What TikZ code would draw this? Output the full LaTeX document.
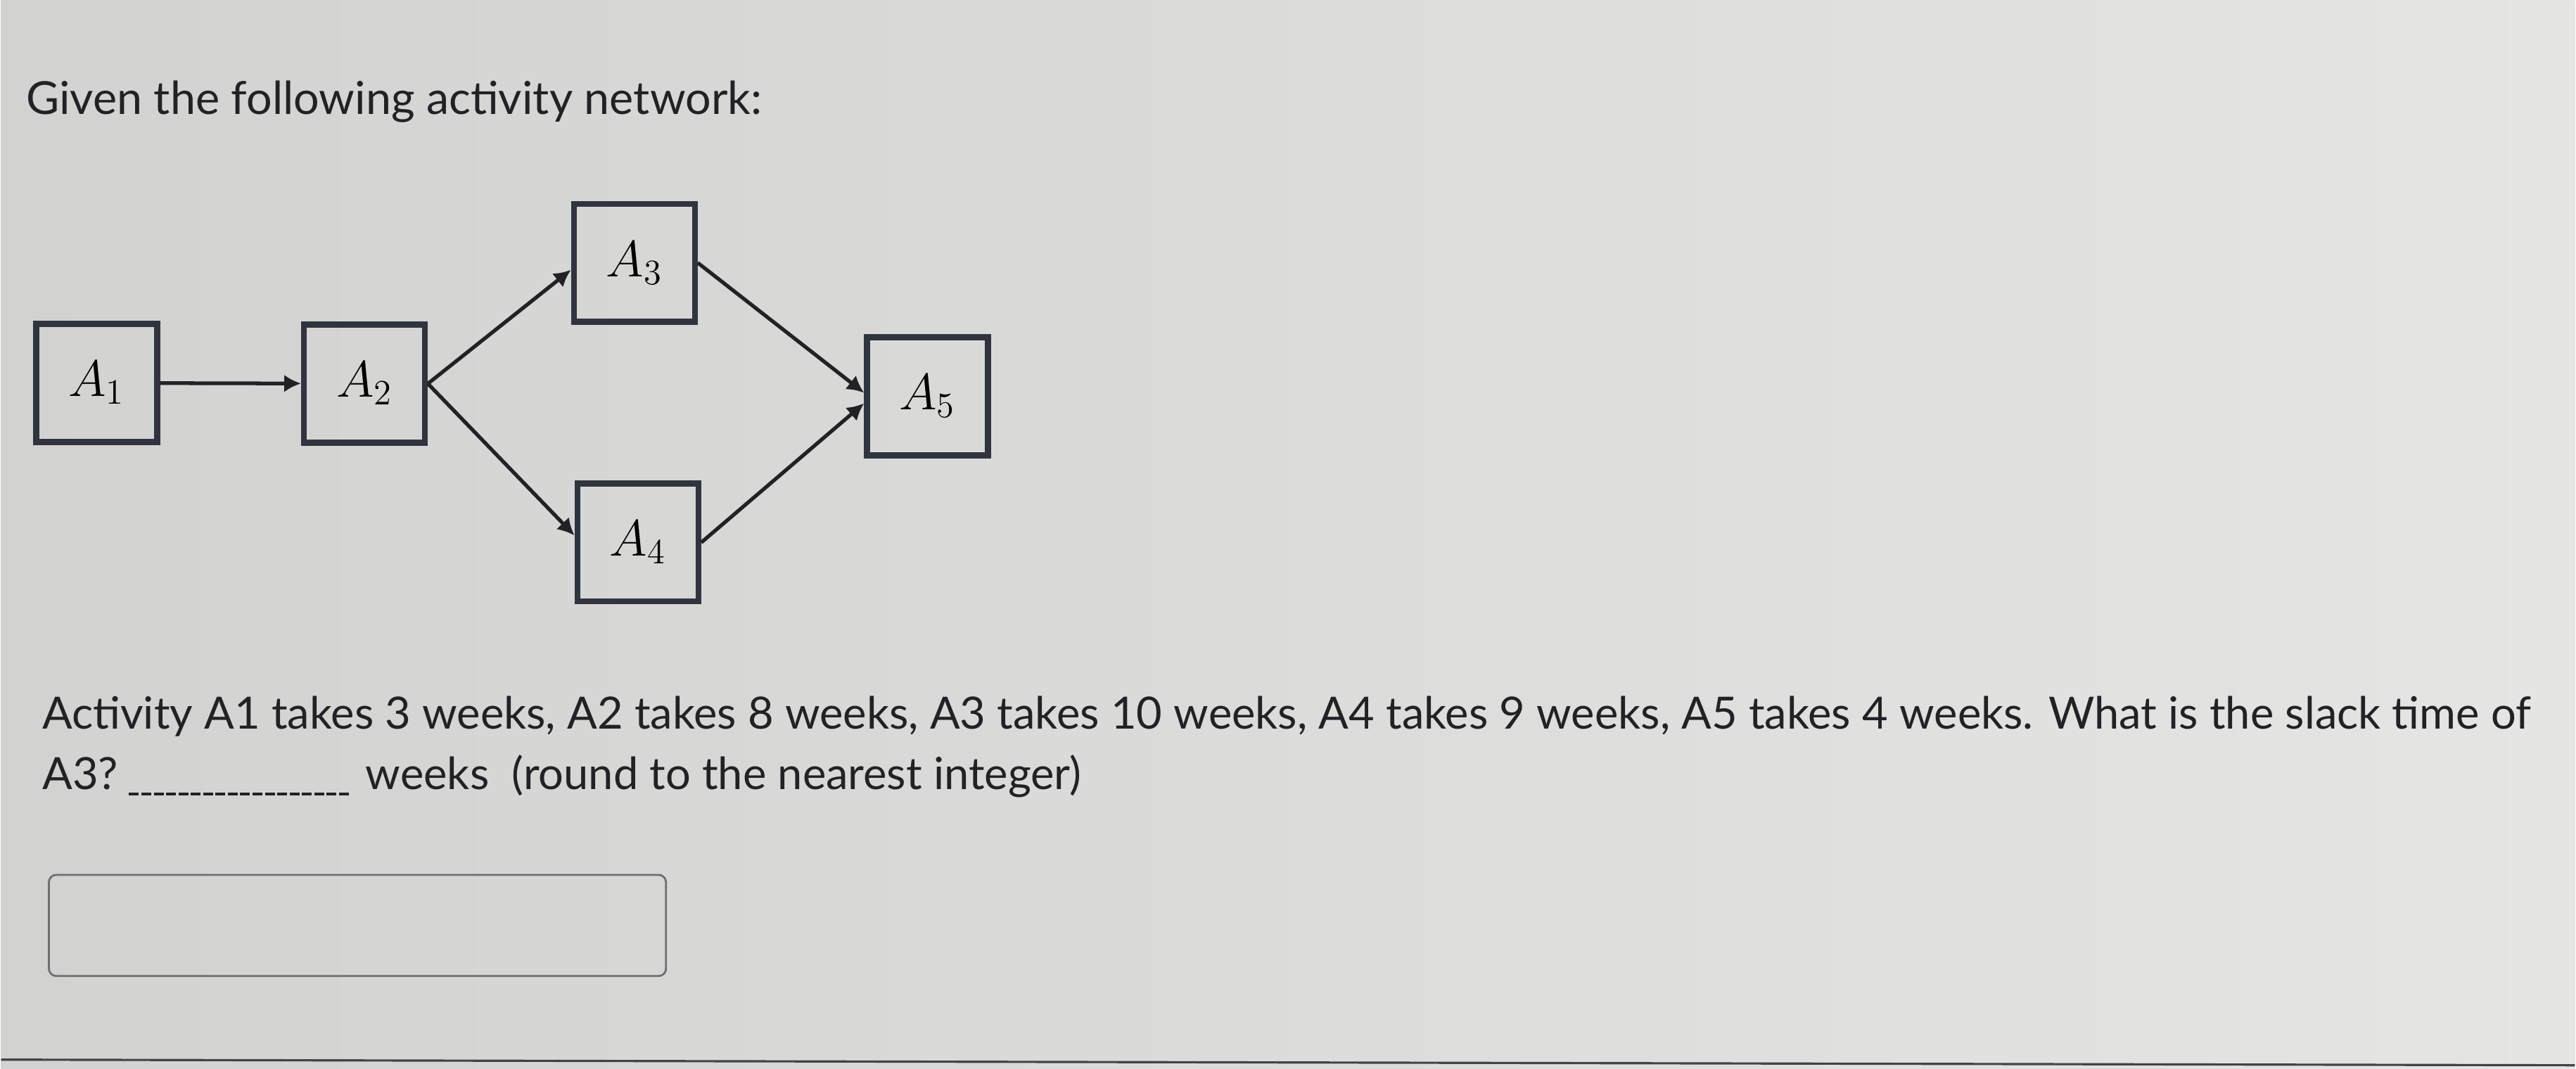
\documentclass[tikz,border=0pt]{standalone}
\usepackage[no-math]{fontspec}
\setmainfont{Lato}
\usetikzlibrary{arrows.meta}

\definecolor{paper}{RGB}{210,210,208}
\definecolor{paperlight}{RGB}{229,229,227}
\definecolor{boxline}{RGB}{48,52,62}
\definecolor{ink}{RGB}{34,34,38}

\tikzset{
    activity/.style={draw=boxline, line width=2.4pt, minimum width=1.72cm, minimum height=1.68cm, inner sep=0pt, font=\fontsize{20}{24}\selectfont},
    link/.style={draw=ink, line width=1.5pt, -{Latex[length=2.4mm,width=2.5mm]}},
    txt/.style={anchor=base west, inner sep=0pt, text=ink}
}

\begin{document}
\begin{tikzpicture}
        \shade[left color=paper, right color=paperlight] (0,0) rectangle (36.62,15.21);

        \node[txt, font=\fontsize{18.4}{22}\selectfont] (head) at (0.35,13.58) {Given the following activity network:};

        % the network
        \node[activity] (A1) at (1.36,9.76) {$A_1$};
        \node[activity] (A2) at (5.17,9.75) {$A_2$};
        \node[activity] (A3) at (9.01,11.47) {$A_3$};
        \node[activity] (A4) at (9.06,7.49) {$A_4$};
        \node[activity] (A5) at (13.18,9.57) {$A_5$};

        \draw[link] (A1) -- (A2);
        \draw[link] (A2.east) -- ([yshift=-1mm]A3.west);
        \draw[link] (A2.east) -- ([yshift=1mm]A4.west);
        \draw[link] (A3.east) -- ([yshift=0.5mm]A5.west);
        \draw[link] (A4.east) -- ([yshift=-1mm]A5.west);

        % the question
        \node[txt, font=\fontsize{18}{22}\selectfont] (q1) at (0.58,4.84) {Activity A1 takes 3 weeks, A2 takes 8 weeks, A3 takes 10 weeks, A4 takes 9 weeks, A5 takes 4 weeks. What is the slack time of};
        \node[txt, font=\fontsize{18}{22}\selectfont] (q2) at (0.58,3.98) {A3?};
        \node[txt, font=\fontsize{18}{22}\selectfont] (q3) at (5.18,3.98) {weeks\ \ (round to the nearest integer)};
        \draw[ink, line width=0.9pt, dash pattern=on 4pt off 1pt] (1.82,3.91) -- (4.97,3.91);

        \node[draw=ink!65, line width=0.8pt, rounded corners=3pt, minimum width=8.78cm, minimum height=1.44cm] (answer) at (5.07,2.04) {};

        \draw[ink!85, line width=0.9pt] (0,0.13) -- (36.62,0.05);
\end{tikzpicture}
\end{document}
